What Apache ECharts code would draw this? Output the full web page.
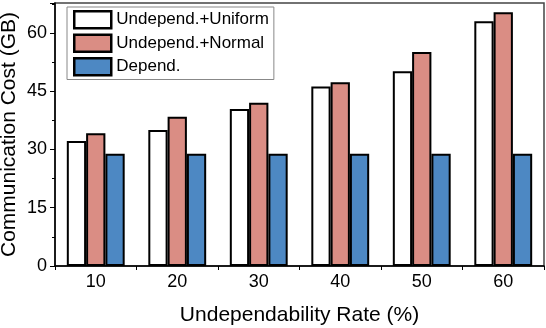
<!DOCTYPE html>
<html><head><meta charset="utf-8">
<script src="https://cdn.jsdelivr.net/npm/echarts@6/dist/echarts.min.js"></script>
<style>html,body{margin:0;padding:0;background:#fff}#c{width:546px;height:328px}</style>
</head><body><div id="c"></div>
<script>
const categories = ['10', '20', '30', '40', '50', '60'];
const uniform = [32.2, 35.0, 40.4, 46.2, 50.1, 63.0];
const normal = [34.2, 38.4, 42.0, 47.3, 55.1, 65.3];
const depend = [28.9, 28.9, 28.9, 28.9, 28.9, 28.9];
const seriesNames = ['Undepend.+Uniform', 'Undepend.+Normal', 'Depend.'];
const yTicks = [0, 15, 30, 45, 60];
const FONT = '"Liberation Sans", Arial, Helvetica, sans-serif';
const chart = echarts.init(document.getElementById('c'));
const barStyle = (color) => ({ color: color, borderColor: '#000', borderWidth: 2 });
chart.setOption({
  animation: false,
  textStyle: { fontFamily: FONT },
  grid: { left: 55, right: 2, top: 3, bottom: 62, containLabel: false, outerBoundsMode: 'none',
    show: true, borderColor: '#444', borderWidth: 1.5 },
  legend: {
    orient: 'vertical', left: 67, top: 7, icon: 'rect',
    itemWidth: 37, itemHeight: 17, itemGap: 4,
    padding: [3, 5, 3, 6], borderColor: '#888', borderWidth: 1,
    itemStyle: { borderWidth: 2.5, borderColor: '#000' },
    textStyle: { fontSize: 17, color: '#000', fontFamily: FONT },
    data: seriesNames
  },
  xAxis: {
    type: 'category', data: categories,
    axisLine: { lineStyle: { color: '#000', width: 1.5 } },
    axisTick: { show: true, length: 4, lineStyle: { color: '#000' } },
    axisLabel: { fontSize: 18, color: '#000', margin: 7 },
    name: 'Undependability Rate (%)', nameLocation: 'middle', nameGap: 39, nameMoveOverlap: false,
    nameTextStyle: { fontSize: 21, color: '#000' }
  },
  yAxis: {
    type: 'value', min: 0, max: 67.7, interval: 15,
    axisLine: { show: true, lineStyle: { color: '#000', width: 1.5 } },
    axisTick: { show: true, length: 5, lineStyle: { color: '#000' } },
    minorTick: { show: true, splitNumber: 2, length: 3, lineStyle: { color: '#000' } },
    splitLine: { show: false },
    axisLabel: { fontSize: 18, color: '#000', margin: 8,
      formatter: v => (yTicks.indexOf(Math.round(v * 1000) / 1000) >= 0 ? String(v) : '') },
    name: 'Communication Cost (GB)', nameLocation: 'middle', nameGap: 35, nameMoveOverlap: false,
    nameTextStyle: { fontSize: 21, color: '#000' }
  },
  series: [
    { name: seriesNames[0], type: 'bar', data: uniform, barGap: '0%', barCategoryGap: '29%', itemStyle: barStyle('#ffffff') },
    { name: seriesNames[1], type: 'bar', data: normal, barGap: '0%', barCategoryGap: '29%', itemStyle: barStyle('#DA8D84') },
    { name: seriesNames[2], type: 'bar', data: depend, barGap: '0%', barCategoryGap: '29%', itemStyle: barStyle('#4D88C3') }
  ]
});
</script></body></html>
